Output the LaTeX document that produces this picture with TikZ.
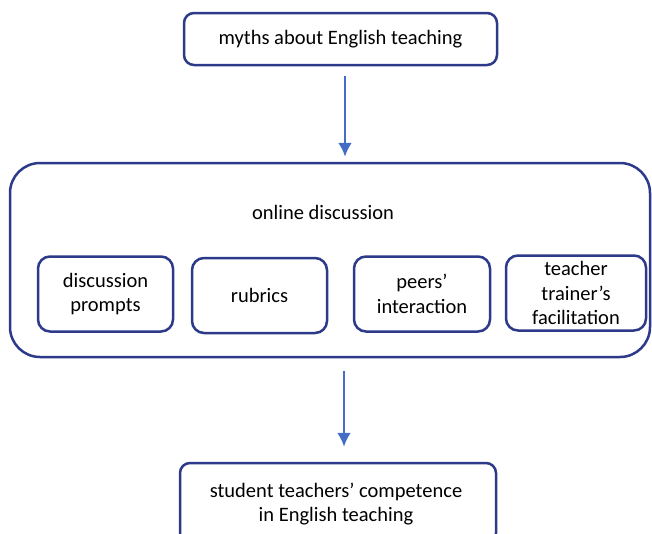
\documentclass[tikz,border=0pt]{standalone}
\usepackage{fontspec}
\setmainfont{Carlito}
\usetikzlibrary{arrows.meta}
\definecolor{boxblue}{RGB}{45,58,138}
\definecolor{arrowblue}{RGB}{68,110,196}

\begin{document}
\begin{tikzpicture}[x=1pt,y=-1pt]
\tikzstyle{txt}=[align=center, font=\fontsize{20.5}{24.5}\selectfont, inner sep=0pt]
\tikzstyle{box}=[txt, draw=boxblue, line width=2.5pt, fill=white, rectangle, rounded corners=10pt]
\tikzstyle{part}=[box, rounded corners=12pt, minimum height=75pt]
\tikzstyle{arrow}=[arrowblue, line width=2.5pt, -{Latex[length=14pt,width=14pt]}]

\useasboundingbox (0,0) rectangle (652,533);

\node (myths) at (340.5,39) [box, minimum width=313pt, minimum height=52pt] {myths about English teaching};

\node (online) at (330,260) [box, rounded corners=30pt, minimum width=640pt, minimum height=194pt] {};
\node (onlineLabel) at (323,212) [txt] {online discussion};

\node (prompts) at (105.5,294) [part, minimum width=135pt] {discussion\\prompts};
\node (rubrics) at (259.5,295.5) [part, minimum width=135pt] {rubrics};
\node (peers) at (422,294) [part, minimum width=136pt] {peers'\\interaction};
\node (trainer) at (576,293) [part, minimum width=140pt] {teacher\\trainer's\\facilitation};

\node (competence) at (338,503) [box, minimum width=316pt, minimum height=80pt] {};
\node (competenceLabel) at (336,504) [txt] {student teachers' competence\\in English teaching};

\draw[arrow] ([xshift=4.5pt]myths.south) -- ([xshift=4.5pt]myths.south |- online.north) [shorten <=10pt, shorten >=5pt];
\draw[arrow] ([xshift=14pt]online.south) -- ([xshift=14pt]online.south |- competence.north) [shorten <=13pt, shorten >=15pt];

\end{tikzpicture}
\end{document}
